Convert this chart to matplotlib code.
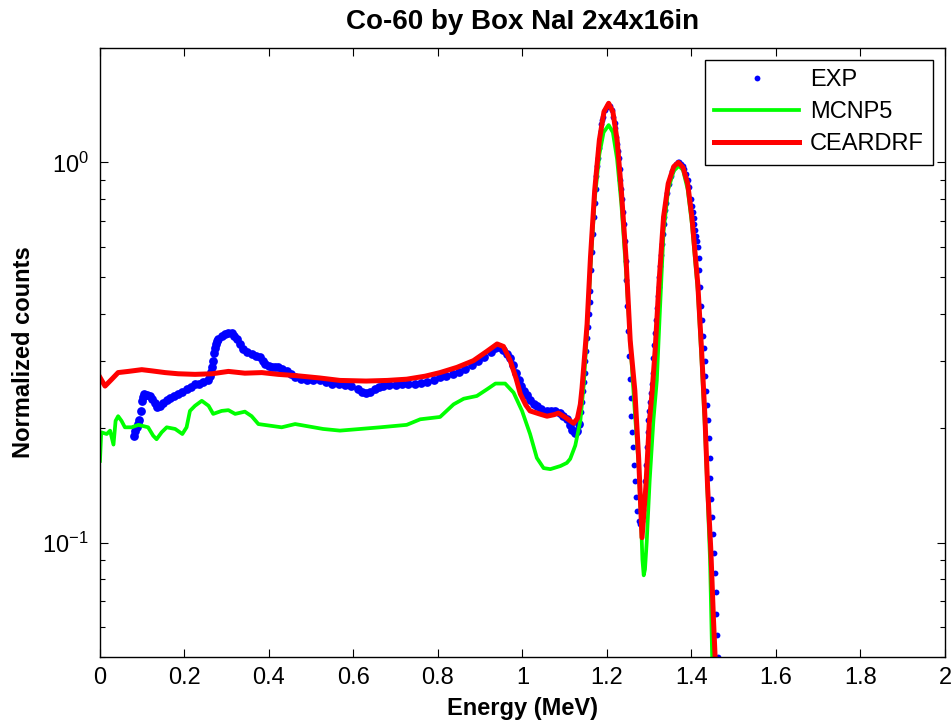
import numpy as np
import matplotlib
matplotlib.use("Agg")
import matplotlib.pyplot as plt
from matplotlib.ticker import NullFormatter

# ---------------------------------------------
# Co-60, Box NaI 2x4x16in : measured vs. MCNP5 vs. CEARDRF

# EXP, continuum part
e_exp = [0.081, 0.084, 0.087, 0.090, 0.093, 0.096, 0.099, 0.102, 0.105, 0.111,
         0.118, 0.124, 0.130, 0.136, 0.142, 0.150, 0.158, 0.166, 0.175, 0.185,
         0.195, 0.205, 0.215, 0.225, 0.235, 0.245, 0.255, 0.260, 0.262, 0.265,
         0.267, 0.270, 0.272, 0.275, 0.278, 0.280, 0.288, 0.296, 0.304, 0.312,
         0.318, 0.324, 0.331, 0.339, 0.349, 0.359, 0.369, 0.379, 0.385, 0.391,
         0.399, 0.407, 0.415, 0.422, 0.432, 0.442, 0.452, 0.462, 0.475, 0.490,
         0.505, 0.520, 0.535, 0.550, 0.565, 0.580, 0.595, 0.610, 0.620, 0.630,
         0.640, 0.650, 0.660, 0.670, 0.685, 0.700, 0.715, 0.730, 0.745, 0.760,
         0.775, 0.790, 0.805, 0.820, 0.835, 0.850, 0.865, 0.880, 0.895, 0.910,
         0.925, 0.935, 0.945, 0.955, 0.963, 0.971, 0.978, 0.985, 0.991, 0.997,
         1.003, 1.010, 1.018, 1.027, 1.035, 1.045, 1.058, 1.068, 1.078, 1.088,
         1.097, 1.105, 1.112, 1.118, 1.124, 1.130, 1.135]
n_exp = [0.191, 0.196, 0.201, 0.205, 0.210, 0.222, 0.236, 0.242, 0.246, 0.245,
         0.243, 0.238, 0.233, 0.227, 0.228, 0.233, 0.237, 0.240, 0.243, 0.246,
         0.249, 0.253, 0.257, 0.261, 0.262, 0.264, 0.268, 0.275, 0.281, 0.289,
         0.300, 0.315, 0.324, 0.333, 0.339, 0.343, 0.350, 0.354, 0.356, 0.355,
         0.350, 0.343, 0.333, 0.323, 0.317, 0.313, 0.310, 0.307, 0.300, 0.295,
         0.291, 0.289, 0.290, 0.290, 0.286, 0.283, 0.278, 0.273, 0.270, 0.268,
         0.267, 0.267, 0.264, 0.262, 0.261, 0.260, 0.258, 0.253, 0.249, 0.248,
         0.249, 0.253, 0.256, 0.258, 0.259, 0.260, 0.261, 0.261, 0.262, 0.263,
         0.265, 0.268, 0.272, 0.275, 0.278, 0.281, 0.286, 0.293, 0.300, 0.308,
         0.318, 0.325, 0.326, 0.321, 0.313, 0.305, 0.293, 0.280, 0.268, 0.258,
         0.250, 0.244, 0.237, 0.232, 0.229, 0.225, 0.222, 0.222, 0.222, 0.219,
         0.215, 0.211, 0.204, 0.198, 0.194, 0.196, 0.205]

# EXP, the two photopeaks
e_exp_pk = [1.139, 1.141, 1.143, 1.145, 1.147, 1.149, 1.151, 1.153, 1.155, 1.157,
            1.159, 1.161, 1.163, 1.165, 1.167, 1.169, 1.171, 1.173, 1.175, 1.177,
            1.179, 1.181, 1.183, 1.185, 1.187, 1.189, 1.191, 1.195, 1.199, 1.203,
            1.207, 1.211, 1.215, 1.218, 1.220, 1.222, 1.224, 1.226, 1.228, 1.230,
            1.232, 1.234, 1.236, 1.238, 1.240, 1.242, 1.244, 1.246, 1.248, 1.250,
            1.252, 1.254, 1.256, 1.258, 1.260, 1.262, 1.264, 1.266, 1.268, 1.271,
            1.275, 1.279, 1.283, 1.286, 1.288, 1.290, 1.292, 1.294, 1.296, 1.298,
            1.300, 1.302, 1.304, 1.306, 1.308, 1.310, 1.312, 1.314, 1.316, 1.318,
            1.320, 1.322, 1.324, 1.326, 1.328, 1.330, 1.332, 1.334, 1.336, 1.338,
            1.340, 1.343, 1.347, 1.351, 1.355, 1.359, 1.363, 1.367, 1.371, 1.375,
            1.379, 1.383, 1.387, 1.391, 1.395, 1.399, 1.401, 1.403, 1.405, 1.407,
            1.409, 1.411, 1.413, 1.415, 1.417, 1.419, 1.421, 1.423, 1.425, 1.427,
            1.429, 1.431, 1.433, 1.435, 1.437, 1.439, 1.441, 1.443, 1.445, 1.447,
            1.449, 1.451, 1.453, 1.455, 1.457, 1.459, 1.461, 1.463, 1.465]
n_exp_pk = [0.220, 0.235, 0.25, 0.265, 0.28, 0.30, 0.32, 0.345, 0.37, 0.40,
            0.43, 0.46, 0.52, 0.58, 0.65, 0.72, 0.78, 0.85, 0.92, 0.98,
            1.03, 1.09, 1.15, 1.21, 1.26, 1.29, 1.32, 1.37, 1.40, 1.42,
            1.41, 1.37, 1.32, 1.27, 1.23, 1.17, 1.12, 1.07, 1.03, 0.96,
            0.90, 0.85, 0.80, 0.74, 0.69, 0.62, 0.55, 0.49, 0.42, 0.36,
            0.31, 0.27, 0.24, 0.215, 0.195, 0.178, 0.16, 0.145, 0.132, 0.121,
            0.114, 0.112, 0.114, 0.122, 0.132, 0.145, 0.16, 0.178, 0.195, 0.21,
            0.222, 0.235, 0.248, 0.262, 0.28, 0.305, 0.33, 0.355, 0.385, 0.415,
            0.445, 0.47, 0.50, 0.535, 0.57, 0.61, 0.65, 0.69, 0.72, 0.75,
            0.78, 0.83, 0.88, 0.92, 0.95, 0.97, 0.99, 1.0, 1.0, 0.99,
            0.98, 0.96, 0.93, 0.90, 0.86, 0.80, 0.77, 0.74, 0.715, 0.69,
            0.665, 0.64, 0.62, 0.60, 0.56, 0.52, 0.47, 0.42, 0.385, 0.35,
            0.325, 0.30, 0.275, 0.25, 0.23, 0.21, 0.188, 0.167, 0.148, 0.13,
            0.117, 0.105, 0.094, 0.083, 0.074, 0.065, 0.057, 0.05, 0.046]

# MCNP5
e_mcnp = [0.000, 0.003, 0.016, 0.024, 0.032, 0.037, 0.043, 0.051, 0.059, 0.075,
          0.091, 0.114, 0.126, 0.134, 0.146, 0.158, 0.178, 0.195, 0.205, 0.213,
          0.225, 0.241, 0.257, 0.268, 0.288, 0.304, 0.320, 0.343, 0.359, 0.375,
          0.430, 0.462, 0.528, 0.568, 0.616, 0.663, 0.726, 0.758, 0.805, 0.837,
          0.861, 0.892, 0.916, 0.936, 0.959, 0.979, 0.999, 1.018, 1.034, 1.050,
          1.066, 1.090, 1.105, 1.113, 1.125, 1.137, 1.145, 1.153, 1.161, 1.171,
          1.182, 1.192, 1.204, 1.214, 1.224, 1.234, 1.245, 1.255, 1.266, 1.275,
          1.280, 1.284, 1.287, 1.290, 1.294, 1.301, 1.310, 1.318, 1.325, 1.334,
          1.345, 1.358, 1.370, 1.380, 1.391, 1.401, 1.415, 1.424, 1.432, 1.438,
          1.444, 1.449, 1.452]
n_mcnp = [0.164, 0.195, 0.193, 0.197, 0.181, 0.209, 0.215, 0.209, 0.201, 0.201,
          0.204, 0.201, 0.191, 0.187, 0.195, 0.201, 0.199, 0.193, 0.201, 0.222,
          0.229, 0.236, 0.229, 0.218, 0.222, 0.223, 0.218, 0.221, 0.215, 0.205,
          0.201, 0.205, 0.199, 0.197, 0.199, 0.201, 0.204, 0.211, 0.214, 0.231,
          0.239, 0.243, 0.253, 0.262, 0.262, 0.248, 0.222, 0.193, 0.167, 0.157,
          0.156, 0.159, 0.162, 0.166, 0.180, 0.209, 0.26, 0.36, 0.53, 0.80,
          1.05, 1.20, 1.254, 1.20, 1.02, 0.78, 0.52, 0.34, 0.22, 0.16,
          0.12, 0.09, 0.082, 0.085, 0.10, 0.145, 0.21, 0.267, 0.40, 0.66,
          0.85, 0.95, 0.98, 0.955, 0.85, 0.69, 0.46, 0.30, 0.20, 0.135,
          0.09, 0.05, 0.04]

# CEARDRF
e_cear = [0.000, 0.012, 0.028, 0.043, 0.067, 0.099, 0.122, 0.154, 0.185, 0.225,
          0.265, 0.304, 0.343, 0.383, 0.422, 0.462, 0.520, 0.568, 0.630, 0.680,
          0.726, 0.770, 0.805, 0.845, 0.884, 0.915, 0.940, 0.955, 0.971, 0.985,
          0.995, 1.008, 1.018, 1.040, 1.058, 1.075, 1.085, 1.100, 1.121, 1.130,
          1.137, 1.141, 1.145, 1.149, 1.153, 1.161, 1.171, 1.182, 1.193, 1.204,
          1.214, 1.224, 1.234, 1.245, 1.255, 1.266, 1.275, 1.283, 1.292, 1.300,
          1.307, 1.314, 1.323, 1.334, 1.345, 1.358, 1.369, 1.380, 1.391, 1.401,
          1.415, 1.424, 1.432, 1.438, 1.446, 1.452, 1.456, 1.460]
n_cear = [0.272, 0.258, 0.269, 0.280, 0.282, 0.285, 0.283, 0.280, 0.278, 0.277,
          0.278, 0.282, 0.279, 0.280, 0.277, 0.275, 0.271, 0.267, 0.266, 0.267,
          0.269, 0.274, 0.280, 0.289, 0.301, 0.318, 0.333, 0.328, 0.301, 0.270,
          0.246, 0.230, 0.222, 0.218, 0.215, 0.217, 0.219, 0.214, 0.206, 0.212,
          0.231, 0.255, 0.29, 0.33, 0.376, 0.563, 0.845, 1.145, 1.36, 1.431,
          1.36, 1.145, 0.845, 0.563, 0.34, 0.251, 0.167, 0.103, 0.14, 0.205,
          0.25, 0.32, 0.479, 0.719, 0.880, 0.975, 1.0, 0.97, 0.880, 0.719,
          0.479, 0.320, 0.213, 0.142, 0.0947, 0.0632, 0.05, 0.04]

x_ticks = [0, 0.2, 0.4, 0.6, 0.8, 1.0, 1.2, 1.4, 1.6, 1.8, 2.0]
x_tick_labels = ["0", "0.2", "0.4", "0.6", "0.8", "1", "1.2", "1.4", "1.6", "1.8", "2"]

plt.rcParams["font.family"] = ["Liberation Sans", "DejaVu Sans"]

fig = plt.figure(figsize=(9.52, 7.21), dpi=100)
ax = fig.add_axes([0.105, 0.0888, 0.8876, 0.8446])

# measured points: the continuum is a dense noisy band, the peaks are sparse dots
ax.plot(e_exp, n_exp, "o", color=(0, 0, 1), markersize=6.3, markeredgewidth=0)
ax.plot(e_exp_pk, n_exp_pk, "o", color=(0, 0, 1), markersize=4.2, markeredgewidth=0, label="EXP")
ax.plot(e_mcnp, n_mcnp, "-", color=(0, 1, 0), linewidth=2.7, label="MCNP5")
ax.plot(e_cear, n_cear, "-", color=(1, 0, 0), linewidth=3.6, label="CEARDRF")

ax.set_yscale("log")
ax.set_xlim(0, 2)
ax.set_ylim(0.05, 2)
ax.set_xticks(x_ticks)
ax.set_xticklabels(x_tick_labels)
ax.yaxis.set_minor_formatter(NullFormatter())

ax.tick_params(which="both", direction="in", top=True, right=True, labelsize=17, width=0.8)
ax.tick_params(which="major", length=6)
ax.tick_params(which="minor", length=3.3)
ax.tick_params(axis="x", pad=7)
ax.tick_params(axis="y", pad=8)
for s in ax.spines.values():
    s.set_linewidth(1.0)

ax.set_title("Co-60 by Box NaI 2x4x16in", fontsize=20, fontweight="bold", pad=14)
ax.set_xlabel("Energy (MeV)", fontsize=17, fontweight="bold", labelpad=6)
ax.set_ylabel("Normalized counts", fontsize=17, fontweight="bold", labelpad=5)

leg = ax.legend(loc="upper right", fontsize=17, numpoints=1, fancybox=False,
                framealpha=1, edgecolor="black", handlelength=3.6,
                handletextpad=0.45, labelspacing=0.42, borderaxespad=0.5)
leg.get_frame().set_linewidth(1.0)

fig.savefig("out.png", dpi=100)
